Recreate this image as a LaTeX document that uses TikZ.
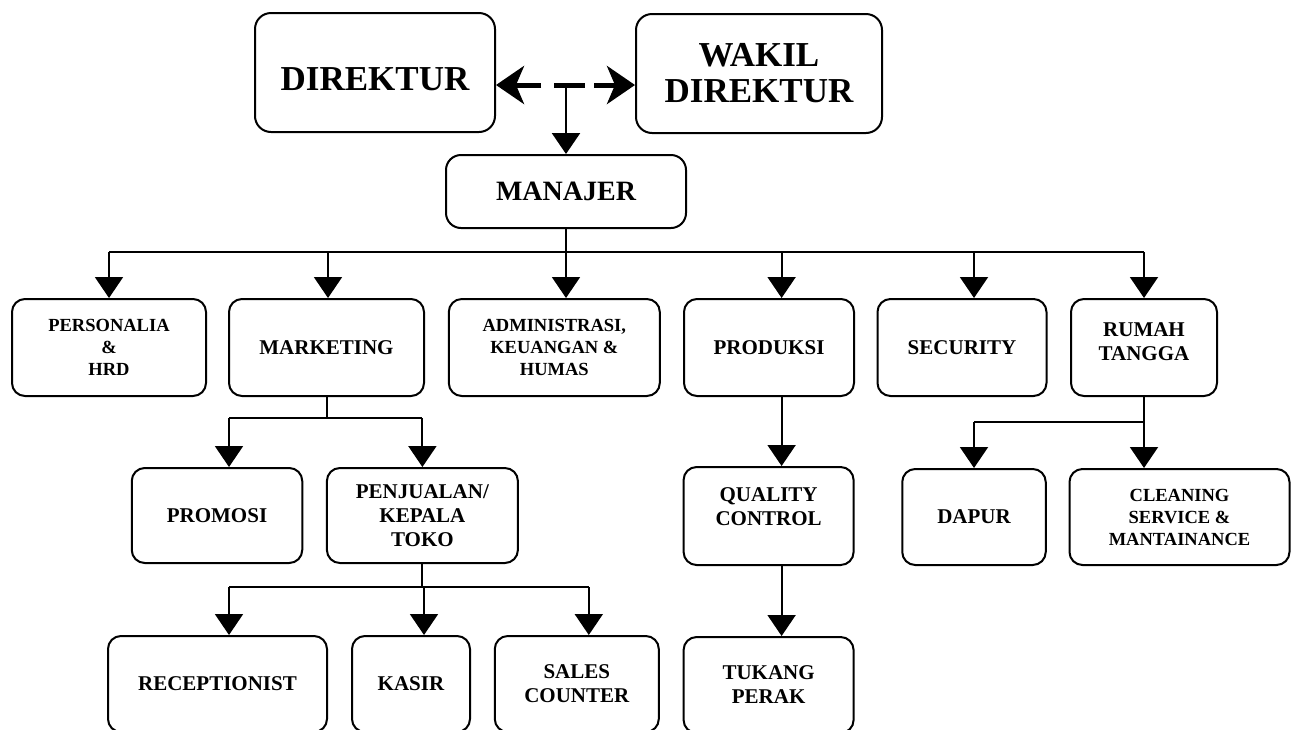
\documentclass[tikz,border=0pt]{standalone}
\usepackage{fontspec}
\setmainfont{Liberation Serif}
\usetikzlibrary{arrows.meta}
\begin{document}
\begin{tikzpicture}[x=1pt,y=-1pt,
  box/.style={draw, line width=2pt, rounded corners=13pt, inner sep=0pt, align=center,
    font=\bfseries\fontsize{21}{24}\selectfont},
  small/.style={font=\bfseries\fontsize{18.5}{22}\selectfont},
  topbox/.style={box, rounded corners=16pt, font=\bfseries\fontsize{35}{36}\selectfont},
  conn/.style={line width=2pt},
  arr/.style={conn, -{Triangle[width=28pt,length=21pt]}},
  big/.style={line width=5pt, -{Stealth[length=28pt,width=38pt,inset=8pt]}}
]
\useasboundingbox (0,0) rectangle (1299,729);
\fill[white] (0,0) rectangle (1299,729);
\clip (0,0) rectangle (1299,729);

% level 0/1
\node[topbox, minimum width=240pt, minimum height=119pt, text height=36pt] (D) at (375,72.5) {DIREKTUR};
\node[topbox, minimum width=246pt, minimum height=119pt] (W) at (759,73.5) {WAKIL\\DIREKTUR};
\node[box, rounded corners=15pt, minimum width=240pt, minimum height=73pt, font=\bfseries\fontsize{28}{30}\selectfont] (M) at (566,191.5) {MANAJER};

% level 2
\node[box, small, minimum width=194pt, minimum height=97pt] (PH) at (109,347.5) {PERSONALIA\\\&\\HRD};
\node[box, minimum width=195pt, minimum height=97pt] (MK) at (326.5,347.5) {MARKETING};
\node[box, small, minimum width=211pt, minimum height=97pt] (AD) at (554.3,347.5) {ADMINISTRASI,\\KEUANGAN \&\\HUMAS};
\node[box, minimum width=170pt, minimum height=97pt] (PR) at (769,347.5) {PRODUKSI};
\node[box, minimum width=169pt, minimum height=97pt] (SE) at (962,347.5) {SECURITY};
\node[box, minimum width=146pt, minimum height=97pt, text depth=12pt] (RT) at (1144,347.5) {RUMAH\\TANGGA};

% level 3
\node[box, minimum width=170.5pt, minimum height=95pt] (PM) at (217,515.5) {PROMOSI};
\node[box, minimum width=191pt, minimum height=95pt] (PJ) at (422.4,515.5) {PENJUALAN/\\KEPALA\\TOKO};
\node[box, minimum width=170pt, minimum height=98pt, text depth=18pt] (QC) at (768.6,516) {QUALITY\\CONTROL};
\node[box, minimum width=143.5pt, minimum height=96pt] (DP) at (974,517) {DAPUR};
\node[box, small, minimum width=220pt, minimum height=96pt] (CL) at (1179.5,517) {CLEANING\\SERVICE \&\\MANTAINANCE};

% level 4
\node[box, minimum width=219pt, minimum height=96pt] (RC) at (217.5,684) {RECEPTIONIST};
\node[box, minimum width=118pt, minimum height=96pt] (KS) at (411,684) {KASIR};
\node[box, minimum width=164pt, minimum height=96pt] (SC) at (576.8,684) {SALES\\COUNTER};
\node[box, minimum width=170pt, minimum height=96pt] (TP) at (768.6,685) {TUKANG\\PERAK};

% top connectors
\coordinate (a1) at (541,85);
\coordinate (a2) at (554,85);
\coordinate (a3) at (585,85);
\coordinate (a4) at (594,85);
\coordinate (mtop) at (566,85);
\draw[big] (a1) -- (D.east |- a1);
\draw[line width=5pt] (a2) -- (a3);
\draw[big] (a4) -- (W.west |- a4);
\draw[line width=2.5pt, -{Triangle[width=28pt,length=21pt]}] (mtop) -- (M.north);

% helper coordinates
\coordinate (y1) at (0,252);
\coordinate (y2) at (0,418);
\coordinate (y3) at (0,587);
\coordinate (y4) at (0,421.7);
\coordinate (prin) at ([xshift=12.6pt]PR.north);
\coordinate (sein) at ([xshift=12pt]SE.north);
\coordinate (pmin) at ([xshift=12pt]PM.north);
\coordinate (rcin) at ([xshift=11.5pt]RC.north);
\coordinate (ksin) at ([xshift=13pt]KS.north);
\coordinate (scin) at ([xshift=12pt]SC.north);

% manajer bus
\draw[conn] (M.south) -- (M.south |- y1);
\draw[conn] (PH.north |- y1) -- (RT.north |- y1);
\draw[arr] (PH.north |- y1) -- (PH.north);
\draw[arr] ([xshift=1.5pt]MK.north |- y1) -- ([xshift=1.5pt]MK.north);
\draw[arr] (M.south |- y1) -- (M.south |- AD.north);
\draw[arr] (prin |- y1) -- (prin);
\draw[arr] (sein |- y1) -- (sein);
\draw[arr] (RT.north |- y1) -- (RT.north);

% marketing bus
\draw[conn] (MK.south) -- (MK.south |- y2);
\draw[conn] (pmin |- y2) -- (PJ.north |- y2);
\draw[arr] (pmin |- y2) -- (pmin);
\draw[arr] (PJ.north |- y2) -- (PJ.north);

% penjualan bus
\draw[conn] (PJ.south) -- (PJ.south |- y3);
\draw[conn] (rcin |- y3) -- (scin |- y3);
\draw[arr] (rcin |- y3) -- (rcin);
\draw[arr] (ksin |- y3) -- (ksin);
\draw[arr] (scin |- y3) -- (scin);

% produksi chain
\draw[arr] (prin |- PR.south) -- (prin |- QC.north);
\draw[arr] (prin |- QC.south) -- (prin |- TP.north);

% rumah tangga bus
\draw[conn] (RT.south) -- (RT.south |- y4);
\draw[conn] (DP.north |- y4) -- (RT.south |- y4);
\draw[arr] (DP.north |- y4) -- (DP.north);
\draw[arr] (RT.south |- y4) -- (RT.south |- CL.north);
\end{tikzpicture}
\end{document}
